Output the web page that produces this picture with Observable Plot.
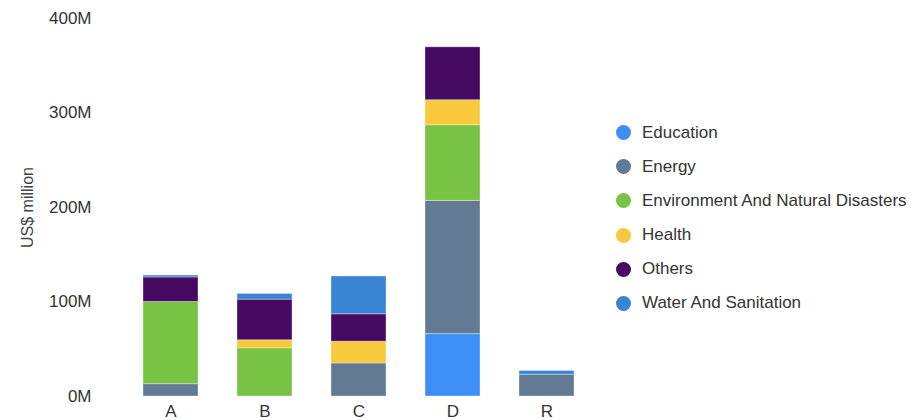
<!DOCTYPE html>
<html>
<head>
<meta charset="utf-8">
<script src="https://cdn.jsdelivr.net/npm/d3@7"></script>
<script src="https://cdn.jsdelivr.net/npm/@observablehq/plot@0.6"></script>
<style>
  html, body { margin: 0; padding: 0; background: #fff; }
  #wrap { position: relative; width: 923px; height: 420px; font-family: "Liberation Sans", Arial, sans-serif; }
  #chart { position: absolute; left: 0; top: 0; }
  #legend { position: absolute; left: 616px; top: 0; }
  .item { position: absolute; left: 0; height: 20px; display: flex; align-items: center; white-space: nowrap; font-size: 17px; color: #333; }
  .dot { width: 15px; height: 15px; border-radius: 50%; margin-right: 11px; }
  #chart svg g[aria-label="y-axis label"] text { font-size: 16px; fill: #444; }
</style>
</head>
<body>
<div id="wrap">
  <div id="chart"></div>
  <div id="legend"></div>
</div>
<script>
const categories = ["A", "B", "C", "D", "R"];
const series = ["Education", "Energy", "Environment And Natural Disasters", "Health", "Others", "Water And Sanitation"];
const colors = ["#3d8ff7", "#627a93", "#78c244", "#f8c93a", "#460a63", "#3a84d4"];
const education   = [0, 0, 0, 66, 0];
const energy      = [13, 0, 35, 141, 23];
const environment = [87, 51, 0, 80, 0];
const health      = [0, 8.5, 23, 26.5, 0];
const others      = [26, 43, 29, 56, 0];
const water       = [2, 6, 40, 0, 4];
const yTicks = [0, 100, 200, 300, 400];

const valuesBySeries = [education, energy, environment, health, others, water];
const data = [];
categories.forEach((c, i) => {
  series.forEach((s, j) => {
    data.push({category: c, sector: s, value: valuesBySeries[j][i]});
  });
});

const chart = Plot.plot({
  width: 616,
  height: 420,
  marginLeft: 103,
  marginRight: 2,
  marginTop: 18,
  marginBottom: 24,
  style: {fontFamily: "'Liberation Sans', Arial, sans-serif", fontSize: "17px", color: "#333", background: "#fff"},
  x: {domain: categories, padding: 0.42, label: null, tickSize: 0, tickPadding: 8},
  y: {domain: [0, 400], ticks: yTicks, tickFormat: d => d + "M", tickSize: 0, tickPadding: 12,
      label: "US$ million", labelAnchor: "center", labelArrow: "none", labelOffset: 82},
  color: {domain: series, range: colors},
  marks: [
    Plot.barY(data, {x: "category", y: "value", fill: "sector", order: series,
      stroke: "#ffffff", strokeOpacity: 0.35, strokeWidth: 1})
  ]
});
document.getElementById("chart").appendChild(chart);

const legend = document.getElementById("legend");
const rowY = [132.7, 166.8, 200.9, 235, 269.2, 303.3];
series.forEach((s, i) => {
  const item = document.createElement("div");
  item.className = "item";
  item.style.top = (rowY[i] - 10) + "px";
  const dot = document.createElement("span");
  dot.className = "dot";
  dot.style.background = colors[i];
  const label = document.createElement("span");
  label.textContent = s;
  item.appendChild(dot);
  item.appendChild(label);
  legend.appendChild(item);
});
</script>
</body>
</html>
